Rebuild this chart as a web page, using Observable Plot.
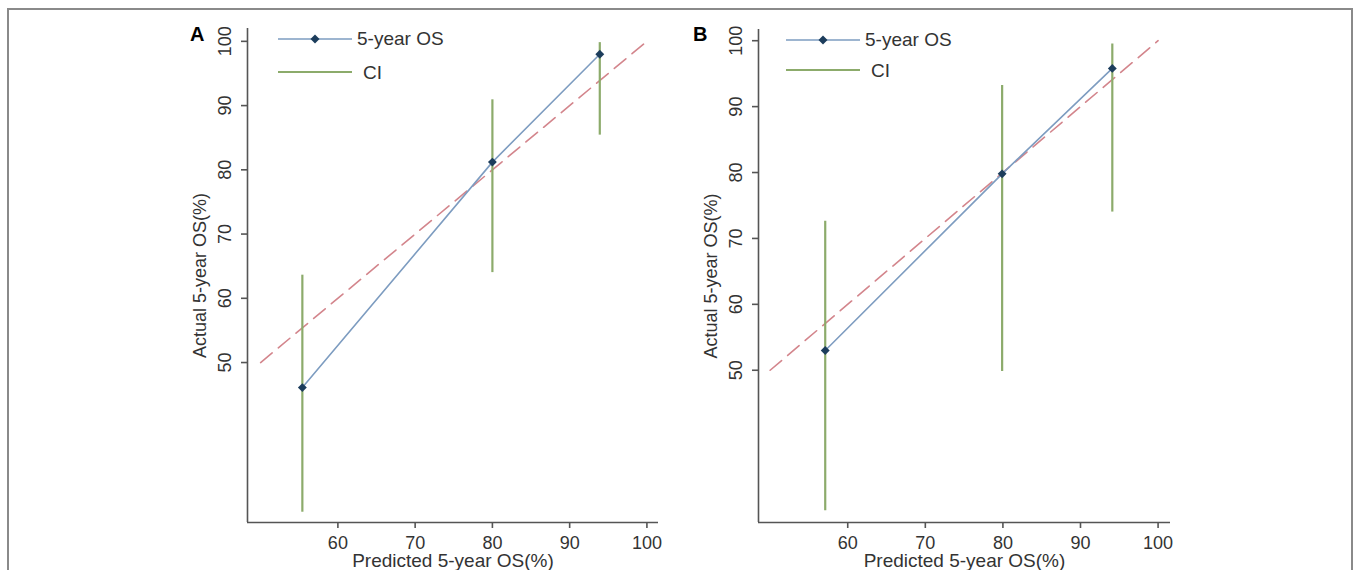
<!DOCTYPE html>
<html>
<head>
<meta charset="utf-8">
<script src="https://cdn.jsdelivr.net/npm/d3@7"></script>
<script src="https://cdn.jsdelivr.net/npm/@observablehq/plot@0.6"></script>
<style>
  html, body { margin: 0; padding: 0; background: #fff; }
  body { width: 1357px; height: 570px; position: relative; overflow: hidden;
         font-family: "Liberation Sans", Arial, sans-serif; }
  #frame { position: absolute; left: 7px; top: 8px; width: 1346px; height: 600px;
           border: 2px solid #8a8a8a; box-sizing: border-box; }
  .panel { position: absolute; top: 0; }
  .plabel { position: absolute; font-weight: bold; font-size: 20px; color: #000; line-height: 1; }
  .leg { position: absolute; font-size: 19px; color: #333; line-height: 1; white-space: nowrap; }
  .legsvg { position: absolute; overflow: visible; }
</style>
</head>
<body>
<div id="frame"></div>
<script>
// ---- Data ----
const xTicks = [60, 70, 80, 90, 100];
const yTicks = [50, 60, 70, 80, 90, 100];
const refX = [50, 100];
const refY = [50, 100];

// Panel A
const predA    = [55.4, 80.0, 93.9];
const actualA  = [46.1, 81.2, 98.0];
const ciLowA   = [26.7, 64.0, 85.4];
const ciHighA  = [63.6, 90.9, 99.8];

// Panel B
const predB    = [57.1, 79.9, 94.1];
const actualB  = [53.0, 79.8, 95.8];
const ciLowB   = [28.7, 49.8, 74.0];
const ciHighB  = [72.6, 93.2, 99.5];

const panelLabels = ["A", "B"];
const seriesLabels = ["5-year OS", "CI"];
const xLabel = "Predicted 5-year OS(%)";
const yLabel = "Actual 5-year OS(%)";

// ---- Styles ----
const C_LINE = "#7d9cc0", C_DOT = "#1c3d5c", C_CI = "#8cab6b", C_REF = "#d3858c", C_AXIS = "#555";
const FONT = "Liberation Sans, Arial, sans-serif";

function panel(cfg) {
  const pts = cfg.pred.map((p, i) => ({x: p, y: cfg.actual[i], lo: cfg.lo[i], hi: cfg.hi[i]}));
  const ref = refX.map((x, i) => ({x, y: refY[i]}));
  const chart = Plot.plot({
    width: cfg.width, height: 570,
    marginLeft: cfg.ml, marginRight: cfg.mr, marginTop: cfg.mt, marginBottom: 48,
    style: {fontFamily: FONT, background: "transparent", color: "#333"},
    x: {domain: cfg.xd, ticks: xTicks},
    y: {domain: cfg.yd, ticks: yTicks},
    marks: [
      Plot.ruleX([cfg.xd[0]], {stroke: C_AXIS, strokeWidth: 1.6}),
      Plot.ruleY([cfg.yd[0]], {stroke: C_AXIS, strokeWidth: 1.6}),
      Plot.axisX({ticks: xTicks, tickSize: 6, tickPadding: 8, fontSize: 18, label: null, stroke: C_AXIS, strokeWidth: 1.6}),
      Plot.axisY({ticks: yTicks, tickSize: 6, tickFormat: () => "", label: null, stroke: C_AXIS, strokeWidth: 1.6}),
      Plot.text(yTicks, {y: d => d, frameAnchor: "left", text: d => String(d), rotate: -90, dx: -22,
                         fontSize: 18, fill: "#333", textAnchor: "middle", lineAnchor: "middle"}),
      Plot.text([xLabel], {frameAnchor: "bottom", dy: 44, fontSize: 19, fill: "#333", lineAnchor: "bottom"}),
      Plot.text([yLabel], {frameAnchor: "left", dx: -47, rotate: -90, fontSize: 18, fill: "#333",
                           textAnchor: "middle", lineAnchor: "middle"}),
      Plot.line(ref, {x: "x", y: "y", stroke: C_REF, strokeWidth: 1.6, strokeDasharray: "15,8"}),
      Plot.ruleX(pts, {x: "x", y1: "lo", y2: "hi", stroke: C_CI, strokeWidth: 2.2}),
      Plot.line(pts, {x: "x", y: "y", stroke: C_LINE, strokeWidth: 1.6}),
      Plot.dot(pts, {x: "x", y: "y", symbol: "diamond2", r: 4, fill: C_DOT, stroke: "none"})
    ]
  });
  chart.classList.add("panel");
  chart.style.left = cfg.left + "px";
  chart.style.position = "absolute";
  document.body.appendChild(chart);

  // panel label
  const pl = document.createElement("div");
  pl.className = "plabel"; pl.textContent = cfg.label;
  pl.style.left = cfg.labX + "px"; pl.style.top = "24px";
  document.body.appendChild(pl);

  // legend
  const mk = (html, x, y, w, h) => {
    const s = document.createElementNS("http://www.w3.org/2000/svg", "svg");
    s.setAttribute("class", "legsvg"); s.setAttribute("width", w); s.setAttribute("height", h);
    s.style.left = x + "px"; s.style.top = y + "px";
    s.innerHTML = html; document.body.appendChild(s);
  };
  const L = cfg.leg;
  mk(`<line x1="0" y1="5" x2="74" y2="5" stroke="${C_LINE}" stroke-width="1.6"/>
      <path d="M37,0.5 L41.5,5 L37,9.5 L32.5,5 Z" fill="${C_DOT}"/>`, L.x, L.y1 - 5, 74, 10);
  mk(`<line x1="0" y1="5" x2="74" y2="5" stroke="${C_CI}" stroke-width="2.2"/>`, L.x, L.y2 - 5, 74, 10);
  const t1 = document.createElement("div"); t1.className = "leg"; t1.textContent = seriesLabels[0];
  t1.style.left = (L.x + 79) + "px"; t1.style.top = (L.y1 - 10) + "px"; document.body.appendChild(t1);
  const t2 = document.createElement("div"); t2.className = "leg"; t2.textContent = seriesLabels[1];
  t2.style.left = (L.x + 85) + "px"; t2.style.top = (L.y2 - 9) + "px"; document.body.appendChild(t2);
}

panel({label: panelLabels[0], labX: 190, left: 160, width: 510, ml: 87, mr: 12, mt: 28,
       xd: [48.3, 101.5], yd: [25.1, 102],
       pred: predA, actual: actualA, lo: ciLowA, hi: ciHighA,
       leg: {x: 278, y1: 39, y2: 72}});
panel({label: panelLabels[1], labX: 693, left: 670, width: 510, ml: 88, mr: 10, mt: 29,
       xd: [48.5, 101.6], yd: [26.9, 101.7],
       pred: predB, actual: actualB, lo: ciLowB, hi: ciHighB,
       leg: {x: 786, y1: 40, y2: 70}});
</script>
</body>
</html>
